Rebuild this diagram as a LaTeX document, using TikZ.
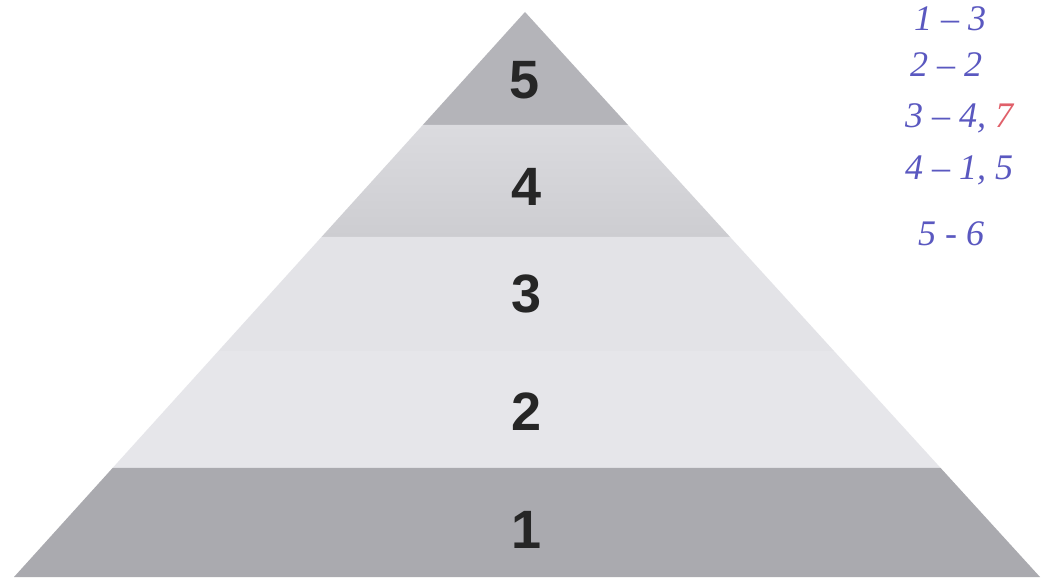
\documentclass[tikz,border=0pt]{standalone}
\usepackage{fontspec}
\setmainfont{Liberation Sans}
\newfontfamily\handfont{Liberation Serif}
\usetikzlibrary{calc}
\definecolor{bandfive}{HTML}{B4B4B9}
\definecolor{bandfourtop}{HTML}{DBDBDF}
\definecolor{bandfourbot}{HTML}{CDCDD1}
\definecolor{bandthree}{HTML}{E3E3E7}
\definecolor{bandtwo}{HTML}{E6E6EA}
\definecolor{bandone}{HTML}{AAAAAF}
\definecolor{ink}{HTML}{5A58C0}
\definecolor{redink}{HTML}{E0606A}
\tikzset{
  lvl/.style={font=\bfseries\fontsize{54}{54}\selectfont, text=black!85, inner sep=0pt},
  hand/.style={font=\handfont\itshape\fontsize{36}{36}\selectfont, text=ink, inner sep=0pt, anchor=west}
}
\begin{document}
\begin{tikzpicture}[x=1pt,y=-1pt]
\useasboundingbox[fill=white] (0,0) rectangle (1045,585);
\coordinate (A) at (525,12);
\coordinate (BL) at (14,577);
\coordinate (BR) at (1040,577);
\coordinate (L1) at ($(A)!0.2!(BL)$);  \coordinate (R1) at ($(A)!0.2!(BR)$);
\coordinate (L2) at ($(A)!0.398!(BL)$);  \coordinate (R2) at ($(A)!0.398!(BR)$);
\coordinate (L3) at ($(A)!0.6!(BL)$);  \coordinate (R3) at ($(A)!0.6!(BR)$);
\coordinate (L4) at ($(A)!0.807!(BL)$);  \coordinate (R4) at ($(A)!0.807!(BR)$);
% bands
\fill[bandfive] (A) -- (R1) -- (L1) -- cycle;
\shade[top color=bandfourtop, bottom color=bandfourbot] (L1) -- (R1) -- (R2) -- (L2) -- cycle;
\fill[bandthree] (L2) -- (R2) -- (R3) -- (L3) -- cycle;
\fill[bandtwo] (L3) -- (R3) -- (R4) -- (L4) -- cycle;
\fill[bandone] (L4) -- (R4) -- (BR) -- (BL) -- cycle;
% level numbers
\node[lvl] (n5) at (525,80) {5};
\node[lvl] (n4) at (527,187) {4};
\node[lvl] (n3) at (527,294) {3};
\node[lvl] (n2) at (527,412) {2};
\node[lvl] (n1) at (527,530) {1};
% handwritten notes
\node[hand] (h1) at (914,19) {1 \textendash\ 3};
\node[hand] (h2) at (910,65) {2 \textendash\ 2};
\node[hand] (h3) at (905,118) {3 \textendash\ 4, \textcolor{redink}{7}};
\node[hand] (h4) at (905,170) {4 \textendash\ 1, 5};
\node[hand] (h5) at (918,234) {5 - 6};
\end{tikzpicture}
\end{document}
